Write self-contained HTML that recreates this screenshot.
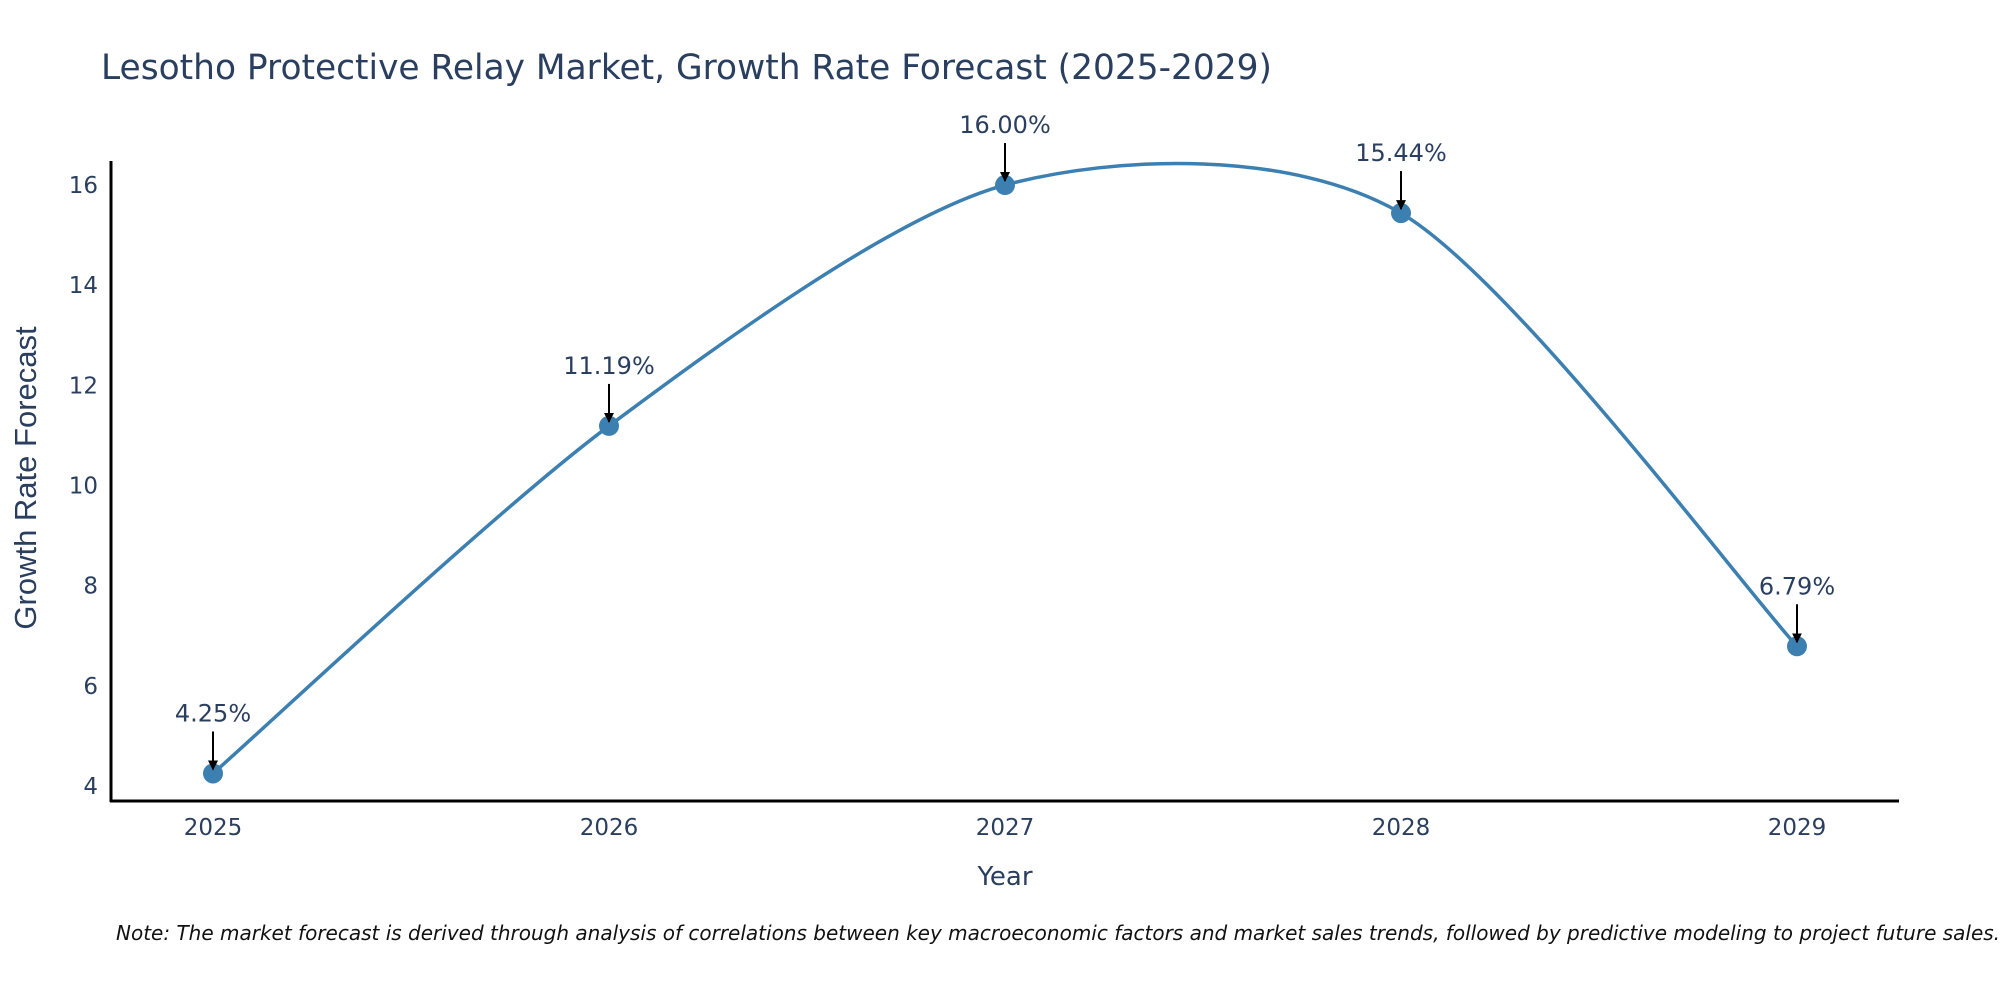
<!DOCTYPE html>
<html><head><meta charset="utf-8"><style>
body{margin:0;background:#fff;}
svg text{font-family:"DejaVu Sans","Liberation Sans",sans-serif;fill:#2a3f5f;}
</style></head><body>
<svg id="chart" width="2000" height="1000" xmlns="http://www.w3.org/2000/svg">
<defs><marker id="ah" viewBox="0 0 10 10" refX="9" refY="5" markerWidth="5" markerHeight="5" orient="auto"><path d="M0,0L10,5L0,10z" fill="#000"/></marker></defs>
<text x="101" y="79" font-size="34.4">Lesotho Protective Relay Market, Growth Rate Forecast (2025-2029)</text>
<g id="yticks"></g><g id="xticks"></g>
<path id="line" fill="none" stroke="#3c7fb1" stroke-width="3.5"/>
<g id="pts"></g>
<line x1="111" y1="161" x2="111" y2="802" stroke="#000" stroke-width="3"/>
<line x1="110" y1="801" x2="1899" y2="801" stroke="#000" stroke-width="3"/>
<text x="1005" y="885" font-size="26" text-anchor="middle">Year</text>
<text transform="translate(36,478) rotate(-90)" font-size="31" text-anchor="middle" style="font-family:'Liberation Sans Narrow','Liberation Sans',sans-serif">Growth Rate Forecast</text>
<text x="116" y="940" font-size="20" font-style="italic" style="fill:#111">Note: The market forecast is derived through analysis of correlations between key macroeconomic factors and market sales trends, followed by predictive modeling to project future sales.</text>
</svg>
<script>
const years=[2025,2026,2027,2028,2029];
const values=[4.25,11.19,16.00,15.44,6.79];
const labels=["4.25%","11.19%","16.00%","15.44%","6.79%"];
const yTicks=[4,6,8,10,12,14,16];
const NS="http://www.w3.org/2000/svg";
const xs=y=>213+(y-2025)*396;
const ys=v=>786-(v-4)*50.08;
function mk(t,a,p){const e=document.createElementNS(NS,t);for(const k in a)e.setAttribute(k,a[k]);p.appendChild(e);return e;}
const yt=document.getElementById('yticks');
yTicks.forEach(v=>{const t=mk('text',{x:98,y:ys(v)+8,'font-size':23,'text-anchor':'end'},yt);t.textContent=v;

});
const xt=document.getElementById('xticks');
years.forEach(y=>{const t=mk('text',{x:xs(y),y:835,'font-size':23,'text-anchor':'middle'},xt);t.textContent=y;

});
const P=years.map((y,i)=>[xs(y),ys(values[i])]);
const k=7.2;
let d='M'+P[0][0]+','+P[0][1];
for(let i=0;i<P.length-1;i++){const p0=P[Math.max(i-1,0)],p1=P[i],p2=P[i+1],p3=P[Math.min(i+2,P.length-1)];
const c1=[p1[0]+(p2[0]-p0[0])/k,p1[1]+(p2[1]-p0[1])/k],c2=[p2[0]-(p3[0]-p1[0])/k,p2[1]-(p3[1]-p1[1])/k];
d+=' C'+c1+' '+c2+' '+p2;}
document.getElementById('line').setAttribute('d',d);
const g=document.getElementById('pts');
P.forEach((p,i)=>{const c=mk('circle',{cx:p[0],cy:p[1],r:10,fill:'#3c7fb1'},g);


const a=mk('line',{x1:p[0],y1:p[1]-42,x2:p[0],y2:p[1]-4,stroke:'#000','stroke-width':2,'marker-end':'url(#ah)'},g);


const t=mk('text',{x:p[0],y:p[1]-52,'font-size':24,'text-anchor':'middle'},g);t.textContent=labels[i];

});
</script>
</body></html>
